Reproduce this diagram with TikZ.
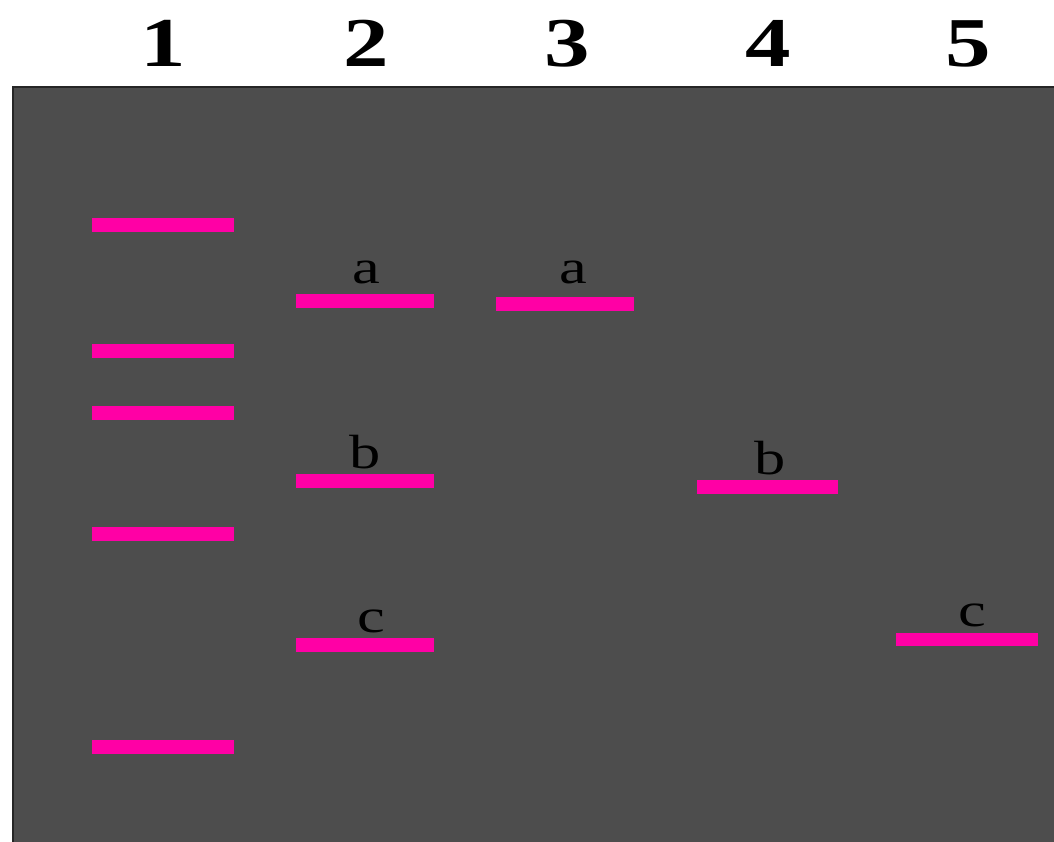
\documentclass[tikz,border=0pt]{standalone}
\usepackage{fontspec}
\setmainfont{Liberation Serif}
\definecolor{gel}{HTML}{4D4D4D}
\definecolor{gelborder}{HTML}{262626}
\definecolor{band}{RGB}{255,0,165}
\begin{document}
\begin{tikzpicture}[x=1pt,y=-1pt,
  bandline/.style={fill=band,draw=none},
  lanenum/.style={font=\fontsize{70}{70}\selectfont\bfseries,xscale=1.3,anchor=base,inner sep=0pt},
  bandlbl/.style={font=\fontsize{48}{48}\selectfont,xscale=1.3,anchor=base,inner sep=0pt,text=black}]
\useasboundingbox (0,0) rectangle (1054,841);
\fill[white] (0,0) rectangle (1054,841);
\draw[fill=gel,draw=gelborder,line width=2pt] (13,87) rectangle (1070,860);
% lane numbers
\node[lanenum] (n1) at (163,66) {1};
\node[lanenum] (n2) at (366,66) {2};
\node[lanenum] (n3) at (567,66) {3};
\node[lanenum] (n4) at (768,66) {4};
\node[lanenum] (n5) at (968,66) {5};
% lane 1 ladder
\foreach \y in {225,351,413,534,747}
  \fill[band] (92,\y-7) rectangle (234,\y+7);
% lane 2
\fill[band] (296,294) rectangle (434,308);
\fill[band] (296,474) rectangle (434,488);
\fill[band] (296,638) rectangle (434,652);
% lane 3
\fill[band] (496,297) rectangle (634,311);
% lane 4
\fill[band] (697,480) rectangle (838,494);
% lane 5
\fill[band] (896,633) rectangle (1038,646);
% labels
\node[bandlbl] (a2) at (366,283) {a};
\node[bandlbl] (a3) at (573,283) {a};
\node[bandlbl] (b2) at (365,468) {b};
\node[bandlbl] (b4) at (770,474) {b};
\node[bandlbl] (c2) at (371,632) {c};
\node[bandlbl] (c5) at (972,626) {c};
\end{tikzpicture}
\end{document}
